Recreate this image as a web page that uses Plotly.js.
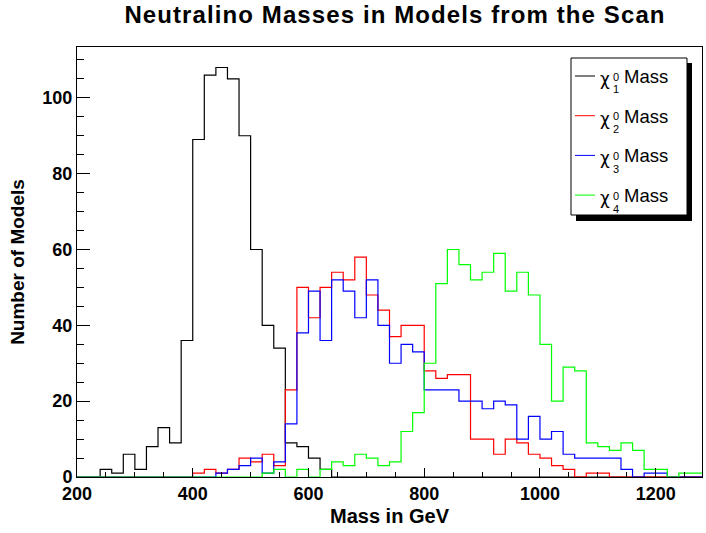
<!DOCTYPE html>
<html><head><meta charset="utf-8">
<script src="https://cdn.plot.ly/plotly-3.0.1.min.js"></script>
<style>html,body{margin:0;padding:0;background:#fff}</style>
</head><body><div id="chart" style="width:706px;height:533px"></div>
<script>
// Histogram binning (GeV)
const binStart = 200;
const binWidth = 20;
// Bin contents, bins starting at 200, 220, ..., 1260
const chi1 = [0,0,2,1,6,2,8,13,9,36, 89,106,108,105,90,60,40,34,9,8, 5,2,0,0,0,0,0,0,0,0, 0,0,0,0,0,0,0,0,0,0, 0,0,0,0,0,0,0,0,0,0, 0,0,0,0];
const chi2 = [0,0,0,0,0,0,0,0,0,0, 1,2,1,2,5,4,6,3,23,50, 42,50,54,52,58,48,44,37,40,40, 28,26,27,27,10,10,6,10,9,6, 5,3,2,0,1,1,0,0,0,0, 0,0,0,0];
const chi3 = [0,0,0,0,0,0,0,0,0,0, 0,0,1,2,3,5,1,4,14,38, 49,36,52,49,42,52,40,30,35,33, 23,23,23,20,20,18,20,19,10,16, 10,12,6,5,5,5,5,2,0,1, 1,0,0,0];
const chi4 = [0,0,0,0,0,0,0,0,0,0, 0,0,0,0,0,0,1,2,0,2, 0,2,4,3,6,5,3,4,12,17, 30,51,60,56,52,54,59,49,54,48, 35,20,29,28,9,8,7,9,7,2, 2,0,1,1];
const seriesNames = ['χ1 Mass','χ2 Mass','χ3 Mass','χ4 Mass'];
const subLabels = ['1','2','3','4'];
const supLabel = '0';
const colors = ['#000000','#ff0000','#0000ff','#00ff00'];

function edgesFor(vals){
  const xs=[], ys=[];
  for(let i=0;i<=vals.length;i++){ xs.push(binStart+i*binWidth); ys.push(i<vals.length?vals[i]:vals[vals.length-1]); }
  return {xs, ys};
}
const all=[chi1,chi2,chi3,chi4];
const traces = all.map((v,k)=>{
  const e=edgesFor(v);
  return {x:e.xs, y:e.ys, type:'scatter', mode:'lines', line:{shape:'hv', color:colors[k], width:1.2}, name:seriesNames[k], showlegend:false, hoverinfo:'skip'};
});

// plot-area geometry in pixels (for legend placement)
const L=77, T=47, W=625, H=430;
const X = px => (px-L)/W;
const Y = py => (T+H-py)/H;

const shapes=[
  {type:'rect', xref:'paper', yref:'paper', x0:X(576), x1:X(692), y0:Y(221), y1:Y(63), fillcolor:'#000', line:{width:0}, layer:'above'},
  {type:'rect', xref:'paper', yref:'paper', x0:X(571), x1:X(687), y0:Y(215), y1:Y(58), fillcolor:'#fff', line:{width:1,color:'#000'}, layer:'above'}
];
const annotations=[];
const font = 'Liberation Sans, Arial, sans-serif';
for(let k=0;k<4;k++){
  const cy = 76 + k*39.7;
  shapes.push({type:'line', xref:'paper', yref:'paper', x0:X(575), x1:X(595), y0:Y(cy), y1:Y(cy), line:{color:colors[k], width:1}, layer:'above'});
  annotations.push({xref:'paper', yref:'paper', x:X(597.5), y:Y(cy+3), xanchor:'left', yanchor:'middle', text:'χ', showarrow:false, font:{family:'DejaVu Sans, sans-serif', size:17, color:'#000'}});
  annotations.push({xref:'paper', yref:'paper', x:X(611), y:Y(cy+0.5), xanchor:'left', yanchor:'middle', text:supLabel, showarrow:false, font:{family:font, size:11, color:'#000'}});
  annotations.push({xref:'paper', yref:'paper', x:X(611), y:Y(cy+13.5), xanchor:'left', yanchor:'middle', text:subLabels[k], showarrow:false, font:{family:font, size:11, color:'#000'}});
  annotations.push({xref:'paper', yref:'paper', x:X(621.5), y:Y(cy+0.5), xanchor:'left', yanchor:'middle', text:'Mass', showarrow:false, font:{family:font, size:18.5, color:'#000'}});
}

const layout={
  width:706, height:533,
  margin:{l:L, r:706-L-W, t:T, b:533-T-H, pad:0},
  paper_bgcolor:'#fff', plot_bgcolor:'#fff',
  font:{family:font, color:'#000'},
  title:{text:'Neutralino Masses in Models from the Scan', font:{family:font, size:24, weight:'bold', color:'#000'}, x:395/706, xanchor:'center', xref:'container', y:1-14.5/533, yanchor:'middle', yref:'container'},
  xaxis:{range:[200,1280], tick0:0, dtick:200, ticks:'inside', ticklen:9, tickcolor:'#000', tickwidth:1,
    showline:true, mirror:true, linecolor:'#000', linewidth:1, showgrid:false, zeroline:false,
    tickfont:{family:font, size:18, weight:'bold', color:'#000'},
    minor:{dtick:50, ticks:'inside', ticklen:5, tickcolor:'#000', showgrid:false},
    title:{text:'Mass in GeV', font:{family:font, size:20, weight:'bold', color:'#000'}, standoff:6}},
  yaxis:{range:[0,113.4], tick0:0, dtick:20, ticks:'inside', ticklen:13, tickcolor:'#000', tickwidth:1,
    showline:true, mirror:true, linecolor:'#000', linewidth:1, showgrid:false, zeroline:false,
    tickfont:{family:font, size:18, weight:'bold', color:'#000'},
    minor:{dtick:5, ticks:'inside', ticklen:7, tickcolor:'#000', showgrid:false},
    title:{text:'Number of Models', font:{family:font, size:19, weight:'bold', color:'#000'}, standoff:12}},
  shapes, annotations, showlegend:false
};
Plotly.newPlot('chart', traces, layout, {staticPlot:true, displayModeBar:false}).then(()=>{
  const t=document.querySelector('.gtitle');
  if(t){ t.setAttribute('letter-spacing','1.1'); }
});
</script></body></html>
